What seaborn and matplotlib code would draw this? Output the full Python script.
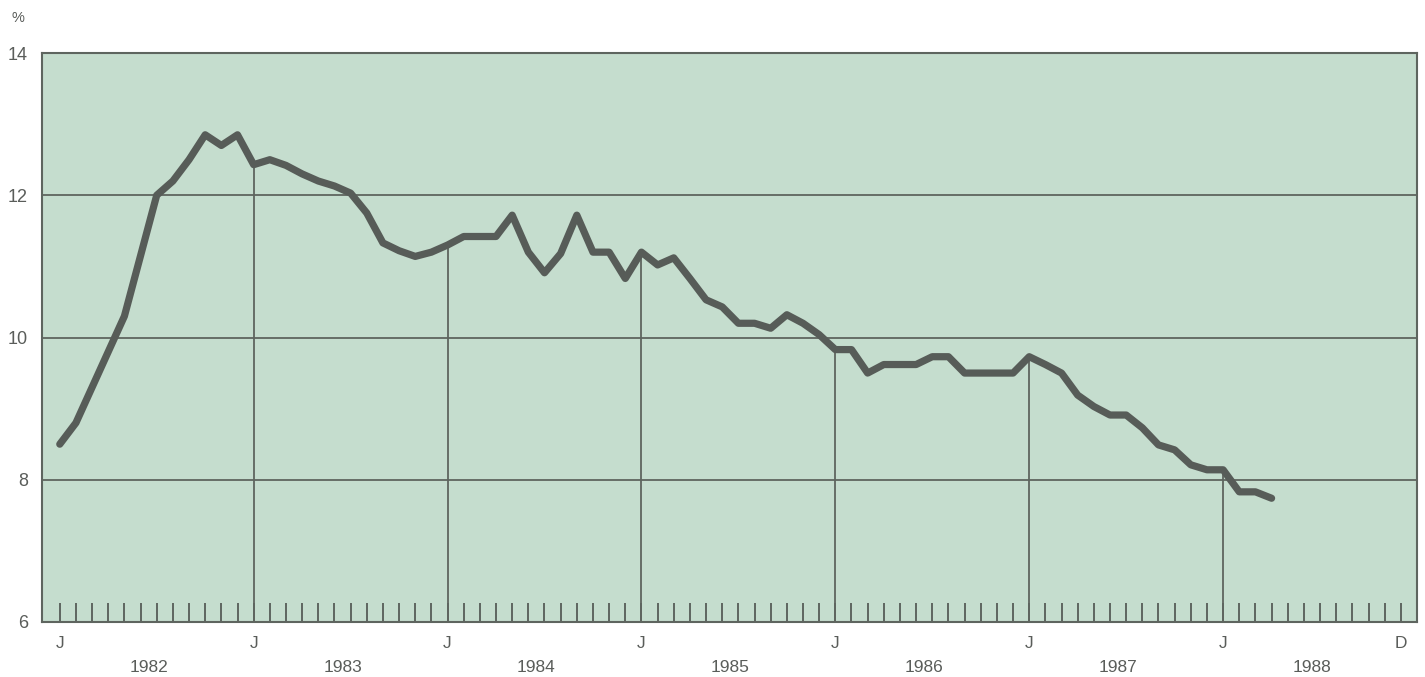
import matplotlib
matplotlib.use("Agg")
import matplotlib.pyplot as plt
import matplotlib.transforms as mtransforms
import seaborn as sns
import pandas as pd
import numpy as np

# Monthly values, Jan 1982 .. Apr 1988 (percent)
values_1982 = [8.5, 8.8, 9.3, 9.8, 10.3, 11.15, 12.0, 12.2, 12.5, 12.85, 12.7, 12.85]
values_1983 = [12.43, 12.5, 12.42, 12.3, 12.2, 12.13, 12.03, 11.75, 11.33, 11.22, 11.14, 11.2]
values_1984 = [11.3, 11.42, 11.42, 11.42, 11.72, 11.2, 10.91, 11.18, 11.72, 11.2, 11.2, 10.83]
values_1985 = [11.2, 11.02, 11.12, 10.83, 10.53, 10.43, 10.2, 10.2, 10.13, 10.32, 10.2, 10.04]
values_1986 = [9.83, 9.83, 9.5, 9.62, 9.62, 9.62, 9.73, 9.73, 9.5, 9.5, 9.5, 9.5]
values_1987 = [9.73, 9.62, 9.5, 9.19, 9.03, 8.91, 8.91, 8.73, 8.49, 8.42, 8.21, 8.14]
values_1988 = [8.14, 7.83, 7.83, 7.74]

years = ["1982", "1983", "1984", "1985", "1986", "1987", "1988"]
month_labels = ["J", "J", "J", "J", "J", "J", "J", "D"]
y_ticks = [6, 8, 10, 12, 14]

values = values_1982 + values_1983 + values_1984 + values_1985 + values_1986 + values_1987 + values_1988
df = pd.DataFrame({"month": np.arange(len(values)), "rate": values})

bg = "#c5ddce"
line_col = "#575c58"
grid_col = "#5e655f"
text_col = "#5a5d5a"

sns.set_style("white")
plt.rcParams["font.family"] = ["Liberation Sans", "DejaVu Sans"]

fig = plt.figure(figsize=(14.25, 6.77), dpi=100)
ax = fig.add_axes([42 / 1425, 1 - 622 / 677, (1417 - 42) / 1425, (622 - 53) / 677])
ax.set_facecolor(bg)

# horizontal grid
for yv in y_ticks[1:-1]:
    ax.axhline(yv, color=grid_col, lw=1.3, zorder=1)

# vertical year lines from the bottom up to the curve
jan_idx = [12 * k for k in range(1, len(years)) if 12 * k < len(values)]
ax.vlines(jan_idx, 6, [values[i] for i in jan_idx], color=grid_col, lw=1.3, zorder=1)

sns.lineplot(data=df, x="month", y="rate", ax=ax, color=line_col, lw=5.2,
             solid_joinstyle="round", solid_capstyle="round", zorder=3)

ax.set_xlim(-1.1, 84.0)
ax.set_ylim(6, 14)

for s in ax.spines.values():
    s.set_color(grid_col)
    s.set_linewidth(1.5)

# month ticks
ax.set_xticks(np.arange(0, 84), minor=True)
ax.set_xticks([0, 12, 24, 36, 48, 60, 72, 83])
ax.set_xticklabels(month_labels)
ax.tick_params(axis="x", which="both", direction="in", length=13.5, width=1.4,
               color=grid_col, bottom=True)
ax.tick_params(axis="x", which="major", pad=10, labelsize=12.5, labelcolor=text_col)

ax.set_yticks(y_ticks)
ax.set_yticklabels([str(v) for v in y_ticks])
ax.tick_params(axis="y", which="both", length=0, pad=10, labelsize=13, labelcolor=text_col)
ax.set_xlabel("")
ax.set_ylabel("")

trans = mtransforms.blended_transform_factory(ax.transData, fig.transFigure)
for k, yr in enumerate(years):
    ax.text(5.5 + 12 * k, 1 - 667 / 677, yr, transform=trans, ha="center", va="center",
            fontsize=12.5, color=text_col)

fig.text(18 / 1425, 1 - 18 / 677, "%", ha="center", va="center", fontsize=10.5, color=text_col)

fig.savefig("out.png", dpi=100, facecolor="white")
